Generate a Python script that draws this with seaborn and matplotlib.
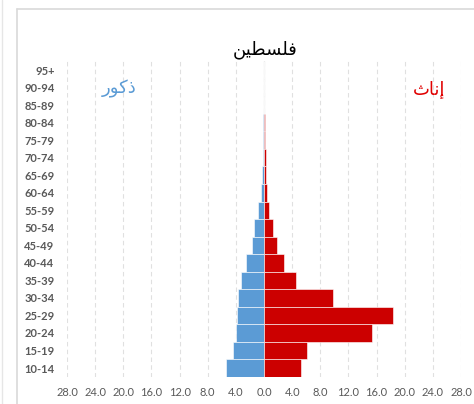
import matplotlib
matplotlib.use("Agg")
import matplotlib.pyplot as plt
import matplotlib.lines as mlines
import numpy as np
import pandas as pd
import seaborn as sns

# age groups, youngest first
ages = ["10-14", "15-19", "20-24", "25-29", "30-34", "35-39", "40-44", "45-49",
        "50-54", "55-59", "60-64", "65-69", "70-74", "75-79", "80-84", "85-89",
        "90-94", "95+"]
males = [5.35, 4.35, 3.93, 3.88, 3.74, 3.22, 2.51, 1.75, 1.46, 0.85, 0.47,
         0.33, 0.18, 0.12, 0.08, 0.05, 0.03, 0.02]
females = [5.22, 6.17, 15.37, 18.35, 9.87, 4.6, 2.85, 1.9, 1.33, 0.76, 0.47,
           0.33, 0.25, 0.15, 0.1, 0.06, 0.04, 0.03]
xticks = [-28, -24, -20, -16, -12, -8, -4, 0, 4, 8, 12, 16, 20, 24, 28]

# arabic text in presentation forms, visual order (matplotlib does no shaping)
title_txt = "\uFEE6\uFEF4\uFEC4\uFEB4\uFEE0\uFED3"   # فلسطين
male_txt = "\uFEAD\uFEEE\uFEDB\uFEAB"                # ذكور
female_txt = "\uFE99\uFE8E\uFEE7\uFE87"              # إناث

df = pd.DataFrame({
    "age": ages * 2,
    "value": [-v for v in males] + females,
    "sex": ["m"] * len(ages) + ["f"] * len(ages),
})

sns.set_style("white")
plt.rcParams["font.family"] = ["Lato", "DejaVu Sans"]

fig = plt.figure(figsize=(4.74, 4.04), dpi=100)
ax = fig.add_axes([0.1414, 0.0673, 0.8312, 0.781])

sns.barplot(data=df, x="value", y="age", hue="sex", order=ages[::-1],
            palette={"m": "#5B9BD5", "f": "#CC0000"}, dodge=False, width=1.0,
            saturation=1, orient="h", legend=False, ax=ax,
            edgecolor="white", linewidth=0.4)

ax.set_xlim(-28, 28)
ax.set_ylim(17.5, -0.5)
ax.set_xticks(xticks)
ax.set_xticklabels([f"{abs(t):.1f}" for t in xticks], fontsize=8, color="#595959")
for lab in ax.get_yticklabels():
    lab.set_fontsize(8)
    lab.set_fontweight("bold")
    lab.set_color("#595959")
ax.tick_params(length=0, pad=7)
ax.tick_params(axis="y", pad=9)
ax.set_xlabel("")
ax.set_ylabel("")
for s in ax.spines.values():
    s.set_visible(False)
ax.grid(axis="x", color="#E0E0E0", linestyle=(0, (4, 3)), linewidth=0.8)
ax.set_axisbelow(True)
ax.axvline(0, color="#D9D9D9", linewidth=0.8, zorder=0.5)

fig.text(0.559, 0.876, title_txt, ha="center", va="center", fontsize=13,
         family="DejaVu Sans", color="black")
ax.text(-20.6, 1.1, male_txt, ha="center", va="center", fontsize=13,
        family="DejaVu Sans", color="#5B9BD5")
ax.text(23.5, 1.1, female_txt, ha="center", va="center", fontsize=13,
        family="DejaVu Sans", color="#E00000")

# chart frame like the spreadsheet export
fig.add_artist(mlines.Line2D([17 / 474, 17 / 474], [0, 1 - 9 / 404],
                             color="#D9D9D9", linewidth=1.2))
fig.add_artist(mlines.Line2D([17 / 474, 1], [1 - 9 / 404, 1 - 9 / 404],
                             color="#D9D9D9", linewidth=1.2))
fig.add_artist(mlines.Line2D([2 / 474, 2 / 474], [0, 1],
                             color="#E6E6E6", linewidth=1.0))

fig.savefig("out.png", dpi=100)
